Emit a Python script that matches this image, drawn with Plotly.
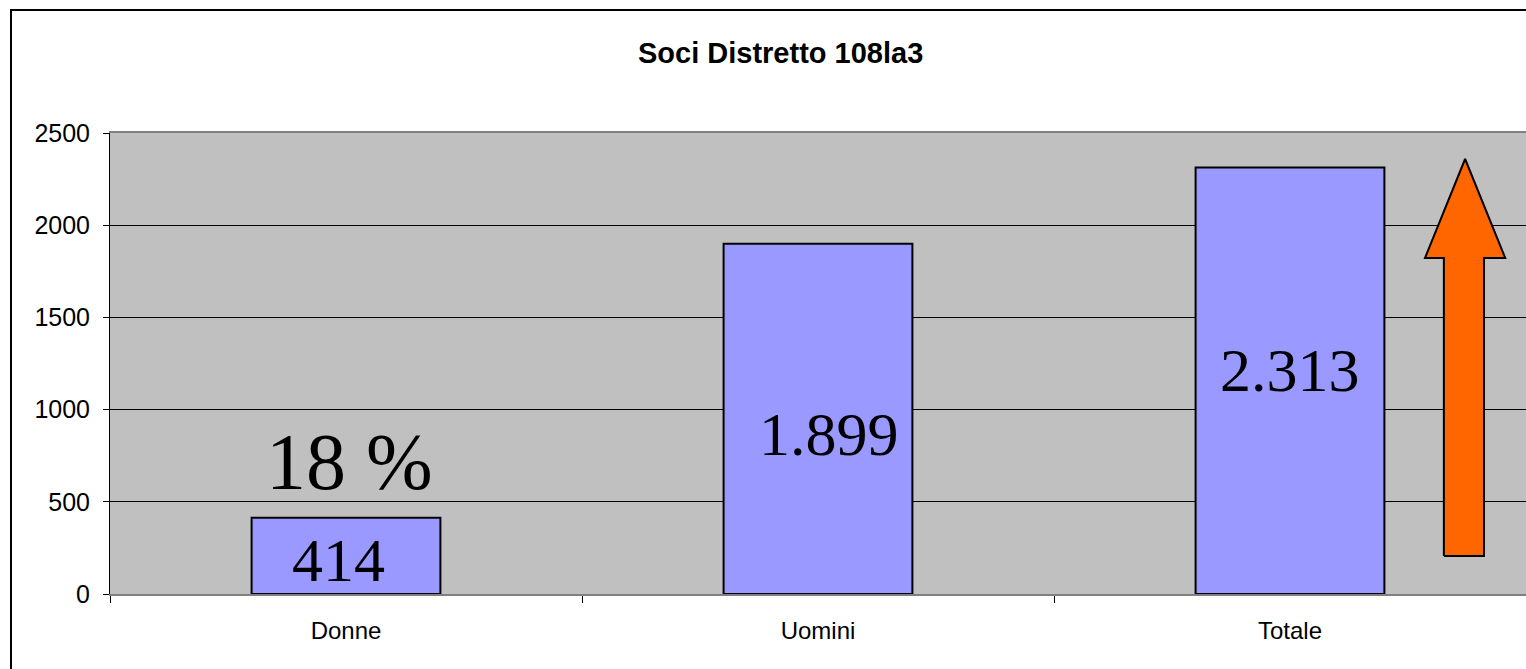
import plotly.graph_objects as go

# ---- data ----
categories = ["Donne", "Uomini", "Totale"]
values = [414, 1899, 2313]
value_labels = ["414", "1.899", "2.313"]
share_label = "18 %"
title_text = "Soci Distretto 108la3"
y_ticks = [0, 500, 1000, 1500, 2000, 2500]

# label placement offsets (category index units, value units)
label_dx = [-0.015, 0.023, 0.0]
label_y = [184, 868, 1215]
share_pos = (0.008, 716)

# decorative up arrow (category index / value units)
arrow_x = [2.326, 2.326, 2.286, 2.371, 2.456, 2.411, 2.411, 2.326]
arrow_y = [206, 1822, 1822, 2359, 1822, 1822, 206, 206]

W, H = 1526, 669
L, R, T, B = 110, 0, 133, 75
pw = W - L - R
ph = H - T - B

fig = go.Figure()
fig.add_trace(go.Bar(
    x=categories, y=values, width=0.4,
    marker=dict(color="#9999FF", line=dict(color="black", width=2)),
    hoverinfo="skip", showlegend=False,
))
fig.add_trace(go.Scatter(
    x=arrow_x, y=arrow_y, xaxis="x2", mode="lines", fill="toself",
    fillcolor="#FF6600", line=dict(color="black", width=2),
    hoverinfo="skip", showlegend=False,
))

serif = "Liberation Serif, Times New Roman, serif"
sans = "Liberation Sans, Arial, sans-serif"

annotations = []
for i, (dx, ly, t) in enumerate(zip(label_dx, label_y, value_labels)):
    annotations.append(dict(x=i + dx, y=ly, xref="x2", yref="y", text=t, showarrow=False,
                            font=dict(family=serif, size=62, color="black"),
                            xanchor="center", yanchor="middle"))
annotations.append(dict(x=share_pos[0], y=share_pos[1], xref="x2", yref="y", text=share_label,
                        showarrow=False, font=dict(family=serif, size=80, color="black"),
                        xanchor="center", yanchor="middle"))
annotations.append(dict(x=(780 - L) / pw, y=(H - B - 53) / ph, xref="paper", yref="paper",
                        text="<b>" + title_text + "</b>", showarrow=False,
                        font=dict(family=sans, size=29, color="black"),
                        xanchor="center", yanchor="middle"))

# outer chart border (extends past the cropped right/bottom edges)
shapes = [dict(type="rect", xref="paper", yref="paper",
               x0=(11 - L) / pw, x1=1.2, y0=-0.5, y1=(H - B - 10) / ph,
               line=dict(color="black", width=2), fillcolor="rgba(0,0,0,0)", layer="below")]

fig.update_layout(
    width=W, height=H,
    margin=dict(l=L, r=R, t=T, b=B, pad=0),
    paper_bgcolor="white", plot_bgcolor="#C0C0C0",
    annotations=annotations, shapes=shapes,
    xaxis=dict(type="category", range=[-0.5, 2.5], tickson="boundaries",
               ticks="outside", ticklen=7, tickcolor="black", tickwidth=1,
               showline=True, linecolor="#808080", linewidth=2, mirror=True,
               showgrid=False, tickfont=dict(family=sans, size=24, color="black"),
               ticklabelstandoff=14, fixedrange=True),
    xaxis2=dict(range=[-0.5, 2.5], overlaying="x", visible=False, fixedrange=True),
    yaxis=dict(range=[0, 2500], tickvals=y_ticks, ticks="outside", ticklen=6,
               tickcolor="black", showline=True, linecolor="black", linewidth=1,
               showgrid=True, gridcolor="black", gridwidth=1, zeroline=False,
               tickfont=dict(family=sans, size=25, color="black"),
               ticklabelstandoff=8, fixedrange=True),
    bargap=0.6,
)

fig.write_html("out.html", config={"displayModeBar": False},
               post_script="document.body.style.margin='0';document.body.style.overflow='hidden';")
